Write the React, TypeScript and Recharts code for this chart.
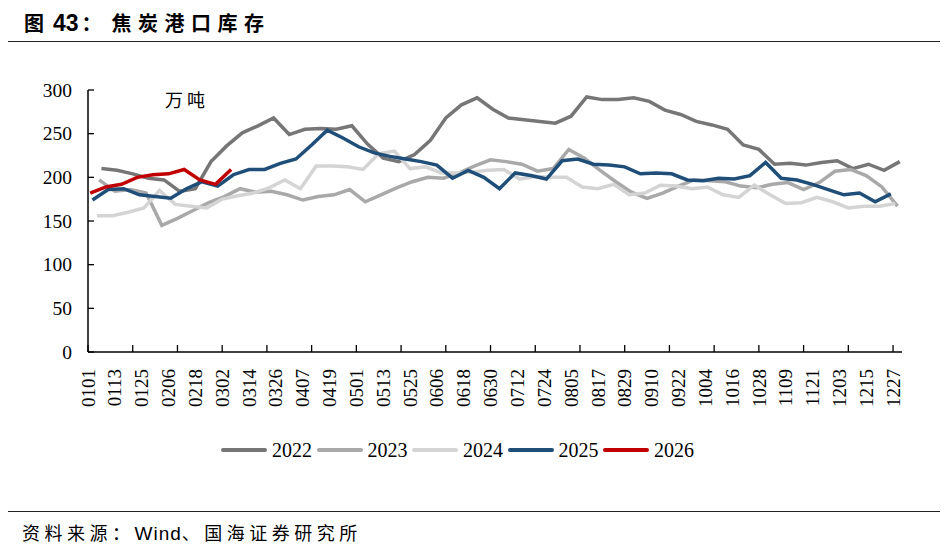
import React from 'react';
import { LineChart, Line, XAxis, YAxis } from 'recharts';

// 焦炭港口库存，万吨，周度（每周五）
const YEARS = ['2022', '2023', '2024', '2025', '2026'];
const COLORS = ['#767676', '#a9a9a9', '#d4d4d4', '#1f4e79', '#c00000'];
// day offset (from 0101) of the first weekly reading of each year
const START_DAY = [6, 5, 4, 2, 1];

const s2022 = [
    210, 208, 204, 199, 197, 184, 187, 218, 236, 251,
    259, 268, 249, 255, 256, 255, 259, 238, 222, 218,
    226, 242, 268, 283, 291, 278, 268, 266, 264, 262,
    270, 292, 289, 289, 291, 287, 277, 272, 264, 260,
    255, 237, 232, 215, 216, 214, 217, 219, 210, 215,
    208, 218,
];
const s2023 = [
    197, 184, 186, 182, 145, 153, 162, 171, 178, 187,
    183, 184, 180, 174, 178, 180, 186, 172, 180, 188,
    195, 200, 199, 205, 213, 220, 218, 215, 207, 210,
    232, 222, 208, 195, 183, 176, 182, 190, 197, 196,
    195, 190, 188, 192, 194, 186, 194, 207, 209, 202,
    189, 167,
];
const s2024 = [
    156, 156, 160, 165, 185, 169, 167, 165, 175, 179,
    182, 188, 197, 187, 213, 213, 212, 209, 227, 230,
    210, 212, 205, 205, 206, 208, 209, 198, 201, 200,
    200, 189, 187, 192, 180, 182, 191, 190, 187, 189,
    180, 177, 191, 180, 170, 171, 177, 172, 165, 167,
    167, 170,
];
const s2025 = [
    174, 186, 187, 180, 178, 176, 187, 195, 190, 203,
    209, 209, 216, 221, 237, 254, 245, 235, 228, 224,
    221, 218, 214, 199, 208, 200, 187, 205, 202, 198,
    219, 221, 215, 214, 212, 204, 205, 204, 197, 196,
    199, 198, 202, 217, 199, 197, 192, 186, 180, 182,
    172, 181,
];
const s2026 = [182, 189, 192, 200, 203, 204, 209, 197, 192, 209];

const SERIES = [s2022, s2023, s2024, s2025, s2026];

const X_LABELS = [
    '0101', '0113', '0125', '0206', '0218', '0302', '0314', '0326', '0407', '0419',
    '0501', '0513', '0525', '0606', '0618', '0630', '0712', '0724', '0805', '0817',
    '0829', '0910', '0922', '1004', '1016', '1028', '1109', '1121', '1203', '1215', '1227',
];
const Y_TICKS = [0, 50, 100, 150, 200, 250, 300];
const TICK_MARK_STEP = 20; // tick marks every 20 days, labels every 12

const dayOfYear = (mmdd: string) => {
    const m = parseInt(mmdd.slice(0, 2), 10);
    const d = parseInt(mmdd.slice(2), 10);
    return Math.round((Date.UTC(2023, m - 1, d) - Date.UTC(2023, 0, 1)) / 86400000);
};

const labelByDay: Record<number, string> = {};
X_LABELS.forEach(l => { labelByDay[dayOfYear(l)] = l; });

const tickSet = new Set<number>(Object.keys(labelByDay).map(Number));
for (let d = 0; d <= 364; d += TICK_MARK_STEP) tickSet.add(d);
const xTicks = [...tickSet].sort((a, b) => a - b);

// one row per reading day, the series fill in their own columns
const rowMap = new Map<number, any>();
SERIES.forEach((vals, i) => {
    vals.forEach((v, k) => {
        const day = START_DAY[i] + 7 * k;
        const row = rowMap.get(day) ?? { day };
        row[YEARS[i]] = v;
        rowMap.set(day, row);
    });
});
const data = [...rowMap.values()].sort((a, b) => a.day - b.day);

const SERIF = '"Liberation Serif", "Times New Roman", serif';
const SANS = '"Liberation Sans", Arial, sans-serif';
const CJK = '"Noto Sans CJK SC", sans-serif';

const XTick = (props: any) => {
    const { x, y, payload } = props;
    const v = payload.value;
    const label = labelByDay[v];
    const ty = y + 17;
    return (
        <g>
            {v % TICK_MARK_STEP === 0 && (
                <line x1={x} y1={y} x2={x} y2={y - 7} stroke="#000" strokeWidth={1.3} />
            )}
            {label && (
                <text
                    x={x}
                    y={ty}
                    transform={`rotate(-90 ${x} ${ty})`}
                    textAnchor="end"
                    dy="0.35em"
                    fontSize={19}
                    fontFamily={SERIF}
                    fill="#000"
                >
                    {label}
                </text>
            )}
        </g>
    );
};

const YTick = (props: any) => {
    const { x, y, payload } = props;
    return (
        <g>
            <line x1={x + 16} y1={y} x2={x + 22} y2={y} stroke="#000" strokeWidth={1.3} />
            <text x={x} y={y} textAnchor="end" dy="0.35em" fontSize={19.5} fontFamily={SERIF} fill="#000">
                {payload.value}
            </text>
        </g>
    );
};

export default function App() {
    return (
        <div style={{ position: 'absolute', left: 0, top: 0, width: 946, height: 546, background: '#fff', overflow: 'hidden' }}>
            <div style={{ position: 'absolute', left: 24, top: 10, fontSize: 20, lineHeight: '26px', fontWeight: 700, fontFamily: CJK, color: '#000', whiteSpace: 'nowrap' }}>
                图
                <span style={{ marginLeft: 9, fontFamily: SANS, fontSize: 23 }}>43</span>
                <span style={{ marginLeft: 3, marginRight: 10 }}>：</span>
                <span style={{ letterSpacing: 6.5 }}>焦炭港口库存</span>
            </div>
            <div style={{ position: 'absolute', left: 8, top: 41, width: 932, height: 0, borderTop: '1.5px solid #222' }} />

            <div style={{ position: 'absolute', left: 165, top: 86, fontSize: 18, lineHeight: '26px', fontFamily: CJK, letterSpacing: 4, color: '#000' }}>
                万吨
            </div>

            <div style={{ position: 'absolute', left: 0, top: 0 }}>
                <LineChart width={946} height={420} data={data} margin={{ top: 90, right: 44, bottom: 8, left: 38 }}>
                    <XAxis
                        type="number"
                        dataKey="day"
                        domain={[0, 364]}
                        ticks={xTicks}
                        interval={0}
                        tickSize={0}
                        tickMargin={0}
                        tick={<XTick />}
                        axisLine={{ stroke: '#000', strokeWidth: 1.5 }}
                        height={60}
                    />
                    <YAxis
                        domain={[0, 300]}
                        ticks={Y_TICKS}
                        interval={0}
                        tickSize={0}
                        tickMargin={16}
                        tick={<YTick />}
                        axisLine={{ stroke: '#000', strokeWidth: 1.5 }}
                        width={50}
                    />
                    {YEARS.map((yr, i) => (
                        <Line
                            key={yr}
                            type="linear"
                            dataKey={yr}
                            stroke={COLORS[i]}
                            strokeWidth={3.5}
                            dot={false}
                            activeDot={false}
                            connectNulls
                            isAnimationActive={false}
                        />
                    ))}
                </LineChart>
            </div>

            {YEARS.map((yr, i) => (
                <div key={yr} style={{ position: 'absolute', left: 221 + i * 95.5, top: 437, height: 26, display: 'flex', alignItems: 'center' }}>
                    <div style={{ width: 46, height: 4, background: COLORS[i], borderRadius: 2 }} />
                    <span style={{ marginLeft: 5, fontSize: 20, fontFamily: SERIF, color: '#000' }}>{yr}</span>
                </div>
            ))}

            <div style={{ position: 'absolute', left: 8, top: 511, width: 932, height: 0, borderTop: '1.5px solid #222' }} />
            <div style={{ position: 'absolute', left: 22, top: 519, fontSize: 18, lineHeight: '26px', fontFamily: CJK, letterSpacing: 4.5, color: '#000', whiteSpace: 'nowrap' }}>
                资料来源：<span style={{ fontFamily: SANS, fontSize: 19, letterSpacing: 1 }}>Wind</span>、国海证券研究所
            </div>
        </div>
    );
}
